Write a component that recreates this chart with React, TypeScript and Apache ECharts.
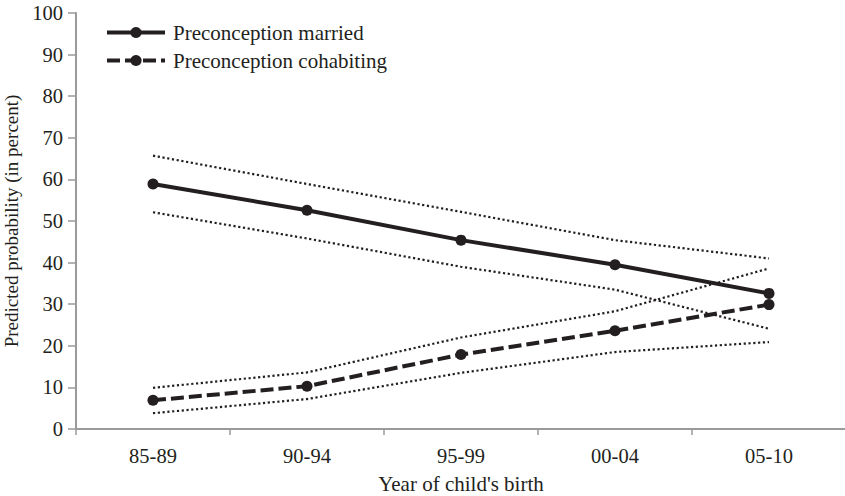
import React, { useEffect, useRef } from "react";
import * as echarts from "echarts";

const categories = ["85-89", "90-94", "95-99", "00-04", "05-10"];
const marriedValues = [58.9, 52.6, 45.4, 39.5, 32.6];
const marriedUpper = [65.7, 58.9, 52.2, 45.4, 41.0];
const marriedLower = [52.1, 45.8, 39.0, 33.5, 24.1];
const cohabValues = [6.9, 10.3, 17.9, 23.6, 29.9];
const cohabUpper = [9.9, 13.6, 22.0, 28.3, 38.6];
const cohabLower = [3.8, 7.2, 13.5, 18.5, 20.9];
const yTicks = [0, 10, 20, 30, 40, 50, 60, 70, 80, 90, 100];

const INK = "#231f20";
const AXIS = "#9a9a9a";
const FONT = "'Liberation Serif', 'Times New Roman', serif";

export default function App() {
  const ref = useRef<HTMLDivElement>(null);

  useEffect(() => {
    if (!ref.current) return;
    const chart = echarts.init(ref.current, undefined, { renderer: "svg" });

    const ciLine = (name: string, data: number[]) => ({
      name,
      type: "line",
      data,
      symbol: "none",
      silent: true,
      z: 1,
      lineStyle: { color: INK, width: 2.2, type: [2.2, 2.6], cap: "butt" },
    });

    chart.setOption({
      animation: false,
      backgroundColor: "#ffffff",
      grid: {
        left: 76,
        right: -1,
        top: 13,
        bottom: 67,
        containLabel: false,
        outerBoundsMode: "none",
      },
      legend: {
        data: ["Preconception married", "Preconception cohabiting"],
        orient: "vertical",
        left: 105,
        top: 22,
        padding: 0,
        itemWidth: 58,
        itemHeight: 14,
        itemGap: 7,
        lineStyle: { width: 4 },
        textStyle: { fontFamily: FONT, fontSize: 21, color: INK, padding: [0, 0, 0, 3] },
      },
      xAxis: {
        type: "category",
        data: categories,
        boundaryGap: true,
        name: "Year of child's birth",
        nameLocation: "middle",
        nameGap: 44,
        nameTextStyle: { fontFamily: FONT, fontSize: 21, color: INK },
        axisLine: { lineStyle: { color: AXIS, width: 2 } },
        axisTick: { show: true, length: 6, alignWithLabel: false, lineStyle: { color: AXIS, width: 1.5 } },
        axisLabel: { fontFamily: FONT, fontSize: 20.5, color: INK, margin: 16 },
        splitLine: { show: false },
      },
      yAxis: {
        type: "value",
        min: yTicks[0],
        max: yTicks[yTicks.length - 1],
        interval: 10,
        name: "Predicted probability (in percent)",
        nameLocation: "middle",
        nameGap: 49,
        nameRotate: 90,
        nameTextStyle: { fontFamily: FONT, fontSize: 19, color: INK },
        axisLine: { show: true, lineStyle: { color: AXIS, width: 2 } },
        axisTick: { show: true, length: 8, lineStyle: { color: AXIS, width: 1.5 } },
        axisLabel: { fontFamily: FONT, fontSize: 20.5, color: INK, margin: 13 },
        splitLine: { show: false },
      },
      series: [
        ciLine("mu", marriedUpper),
        ciLine("ml", marriedLower),
        ciLine("cu", cohabUpper),
        ciLine("cl", cohabLower),
        {
          name: "Preconception married",
          type: "line",
          data: marriedValues,
          symbol: "circle",
          symbolSize: 11,
          z: 3,
          itemStyle: { color: INK },
          lineStyle: { color: INK, width: 4 },
        },
        {
          name: "Preconception cohabiting",
          type: "line",
          data: cohabValues,
          symbol: "circle",
          symbolSize: 11,
          z: 3,
          itemStyle: { color: INK },
          lineStyle: { color: INK, width: 4, type: [13, 5] },
        },
      ],
    });

    return () => chart.dispose();
  }, []);

  return (
    <div
      ref={ref}
      style={{ position: "absolute", left: 0, top: 0, width: 845, height: 496, background: "#fff" }}
    />
  );
}
